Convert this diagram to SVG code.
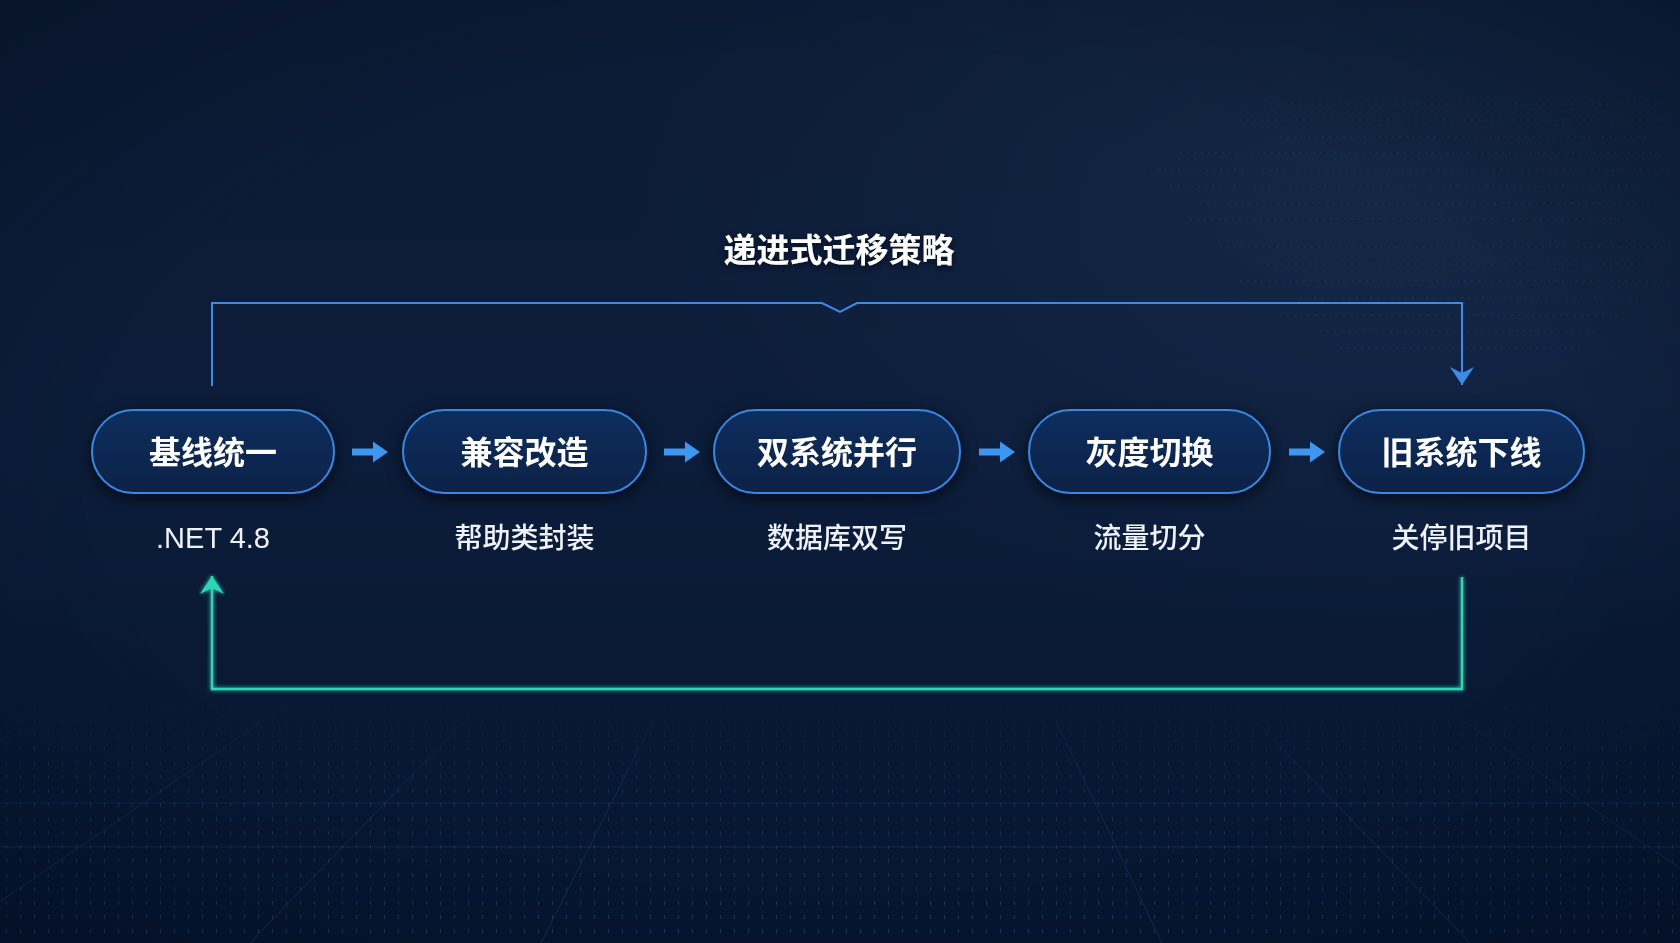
<svg xmlns="http://www.w3.org/2000/svg" width="1680" height="943" viewBox="0 0 1680 943">
  <defs>
    <linearGradient id="bg" x1="0" y1="0" x2="0" y2="1">
      <stop offset="0" stop-color="#0c1b35"/>
      <stop offset="0.45" stop-color="#0c1d3b"/>
      <stop offset="1" stop-color="#061530"/>
    </linearGradient>
    <radialGradient id="glowTR" cx="0.82" cy="0.22" r="0.45">
      <stop offset="0" stop-color="#1a3050" stop-opacity="0.55"/>
      <stop offset="1" stop-color="#1a3050" stop-opacity="0"/>
    </radialGradient>
    <radialGradient id="vignette" cx="0.5" cy="0.5" r="0.75">
      <stop offset="0.6" stop-color="#000814" stop-opacity="0"/>
      <stop offset="1" stop-color="#000814" stop-opacity="0.35"/>
    </radialGradient>
    <linearGradient id="nodeFill" x1="0" y1="0" x2="0" y2="1">
      <stop offset="0" stop-color="#0e2f5e"/>
      <stop offset="1" stop-color="#0a2247"/>
    </linearGradient>
    <linearGradient id="floorFade" x1="0" y1="0" x2="0" y2="1">
      <stop offset="0" stop-color="#fff" stop-opacity="0"/>
      <stop offset="0.35" stop-color="#fff" stop-opacity="0.6"/>
      <stop offset="1" stop-color="#fff" stop-opacity="1"/>
    </linearGradient>
    <mask id="floorMask">
      <rect x="0" y="690" width="1680" height="253" fill="url(#floorFade)"/>
    </mask>
    <pattern id="dots" width="14" height="14" patternUnits="userSpaceOnUse">
      <rect x="6" y="5" width="1" height="4" fill="#5f86b8" opacity="0.3"/>
    </pattern>
    <filter id="shadow" x="-20%" y="-40%" width="140%" height="180%">
      <feDropShadow dx="0" dy="4" stdDeviation="8" flood-color="#000510" flood-opacity="0.7"/>
    </filter>
    <filter id="txtGlow" x="-20%" y="-50%" width="140%" height="200%">
      <feDropShadow dx="0" dy="2" stdDeviation="3" flood-color="#000814" flood-opacity="0.8"/>
    </filter>
    <filter id="lineGlow" x="-5%" y="-50%" width="110%" height="200%">
      <feGaussianBlur stdDeviation="2" result="b"/>
      <feMerge><feMergeNode in="b"/><feMergeNode in="SourceGraphic"/></feMerge>
    </filter>
    <marker id="arrowBlue" viewBox="0 0 24 18" refX="12" refY="18" markerWidth="24" markerHeight="18" markerUnits="userSpaceOnUse" orient="0">
      <path d="M0,0 L12,6 L24,0 L12,18 z" fill="#3d8ae8"/>
    </marker>
    <marker id="arrowGreen" viewBox="0 0 24 18" refX="12" refY="0" markerWidth="24" markerHeight="18" markerUnits="userSpaceOnUse" orient="0">
      <path d="M12,0 L24,18 L12,12 L0,18 z" fill="#2fd6b6"/>
    </marker>
    <path id="stepArrow" d="M0,-3.5 H21 V-10.5 L36,0 L21,10.5 V3.5 H0 z"/>
    <style>
      .node rect { fill: url(#nodeFill); stroke: #3b86de; stroke-width: 2; }
      .node-label { font-family: "Noto Sans CJK SC", "Liberation Sans", sans-serif; font-weight: 700; font-size: 32px; fill: #ffffff; text-anchor: middle; }
      .sub-label { font-family: "Noto Sans CJK SC", "Liberation Sans", sans-serif; font-weight: 500; font-size: 28px; fill: #eef2f8; text-anchor: middle; }
      .latin { font-family: "Liberation Sans", "Noto Sans CJK SC", sans-serif; font-size: 29px; }
      .title { font-family: "Noto Sans CJK SC", "Liberation Sans", sans-serif; font-weight: 700; font-size: 33px; fill: #ffffff; text-anchor: middle; }
      .loop-blue { fill: none; stroke: #3d8ae8; stroke-width: 2; }
      .loop-green { fill: none; stroke: #2fd6b6; stroke-width: 2.5; }
      .step { fill: #3d96f0; }
      .grid line { stroke: #3d6aa3; stroke-width: 1; opacity: 0.3; }
      .code line { stroke: #6a86aa; stroke-width: 2; stroke-dasharray: 2 5; opacity: 0.07; }
    </style>
  </defs>

  <!-- background -->
  <rect width="1680" height="943" fill="url(#bg)"/>
  <rect width="1680" height="943" fill="url(#glowTR)"/>
  <g class="code">
    <line x1="1270" y1="104" x2="1660" y2="104"/>
    <line x1="1240" y1="120" x2="1670" y2="120"/>
    <line x1="1280" y1="137" x2="1650" y2="137"/>
    <line x1="1180" y1="153" x2="1660" y2="153"/>
    <line x1="1150" y1="170" x2="1670" y2="170"/>
    <line x1="1170" y1="186" x2="1640" y2="186"/>
    <line x1="1200" y1="203" x2="1660" y2="203"/>
    <line x1="1190" y1="219" x2="1620" y2="219"/>
    <line x1="1220" y1="247" x2="1670" y2="247"/>
    <line x1="1260" y1="264" x2="1650" y2="264"/>
    <line x1="1240" y1="281" x2="1670" y2="281"/>
    <line x1="1300" y1="298" x2="1640" y2="298"/>
    <line x1="1280" y1="315" x2="1620" y2="315"/>
    <line x1="1320" y1="331" x2="1600" y2="331"/>
    <line x1="1340" y1="348" x2="1580" y2="348"/>
  </g>
  <g mask="url(#floorMask)">
    <rect x="0" y="690" width="1680" height="253" fill="url(#dots)"/>
    <g class="grid">
      <line x1="860" y1="310" x2="-400" y2="943"/>
      <line x1="860" y1="310" x2="-60" y2="943"/>
      <line x1="860" y1="310" x2="250" y2="943"/>
      <line x1="860" y1="310" x2="541" y2="943"/>
      <line x1="860" y1="310" x2="1162" y2="943"/>
      <line x1="860" y1="310" x2="1470" y2="943"/>
      <line x1="860" y1="310" x2="1790" y2="943"/>
      <line x1="860" y1="310" x2="2120" y2="943"/>
      <line x1="0" y1="803" x2="1680" y2="803"/>
      <line x1="0" y1="847" x2="1680" y2="847"/>
    </g>
  </g>
  <rect width="1680" height="943" fill="url(#vignette)"/>

  <!-- title -->
  <text id="title" class="title" x="839" y="262" filter="url(#txtGlow)">递进式迁移策略</text>

  <!-- connectors -->
  <g id="connectors">
    <path id="loop-top" class="loop-blue" d="M212,386 V303 H822 L840,312 L857,303 H1462 V385" marker-end="url(#arrowBlue)"/>
    <path id="loop-bottom" class="loop-green" filter="url(#lineGlow)" d="M1462,577 V689 H212 V576" marker-end="url(#arrowGreen)"/>
    <use id="step-1-2" class="step" href="#stepArrow" x="352" y="452"/>
    <use id="step-2-3" class="step" href="#stepArrow" x="664" y="452"/>
    <use id="step-3-4" class="step" href="#stepArrow" x="979" y="452"/>
    <use id="step-4-5" class="step" href="#stepArrow" x="1289" y="452"/>
  </g>

  <!-- nodes -->
  <g id="node-1" class="node">
    <rect x="92" y="410" width="242" height="83" rx="41.5" filter="url(#shadow)"/>
    <text class="node-label" x="213" y="464">基线统一</text>
    <text class="sub-label latin" x="213" y="548">.NET 4.8</text>
  </g>
  <g id="node-2" class="node">
    <rect x="403" y="410" width="243" height="83" rx="41.5" filter="url(#shadow)"/>
    <text class="node-label" x="524.5" y="464">兼容改造</text>
    <text class="sub-label" x="524.5" y="548">帮助类封装</text>
  </g>
  <g id="node-3" class="node">
    <rect x="714" y="410" width="246" height="83" rx="41.5" filter="url(#shadow)"/>
    <text class="node-label" x="837" y="464">双系统并行</text>
    <text class="sub-label" x="837" y="548">数据库双写</text>
  </g>
  <g id="node-4" class="node">
    <rect x="1029" y="410" width="241" height="83" rx="41.5" filter="url(#shadow)"/>
    <text class="node-label" x="1149.5" y="464">灰度切换</text>
    <text class="sub-label" x="1149.5" y="548">流量切分</text>
  </g>
  <g id="node-5" class="node">
    <rect x="1339" y="410" width="245" height="83" rx="41.5" filter="url(#shadow)"/>
    <text class="node-label" x="1461.5" y="464">旧系统下线</text>
    <text class="sub-label" x="1461.5" y="548">关停旧项目</text>
  </g>
</svg>
